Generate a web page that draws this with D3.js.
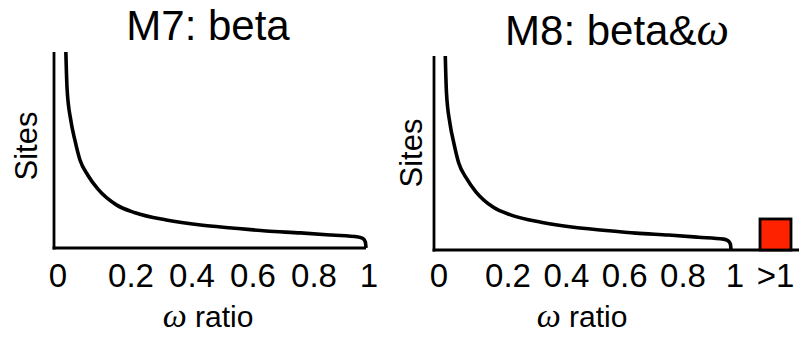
<!DOCTYPE html>
<html>
<head>
<meta charset="utf-8">
<script src="https://cdn.jsdelivr.net/npm/d3@7"></script>
<style>
  html, body { margin: 0; padding: 0; background: #fff; }
  text { font-family: "Liberation Sans", Arial, sans-serif; fill: #000; }
  .omega { font-family: "Liberation Serif", "Times New Roman", serif; font-style: italic; }
</style>
</head>
<body>
<div id="chart"></div>
<script>
// M7 / M8 site models

// beta curve (omega ratio vs share of sites)
const omega = [0.038, 0.042, 0.054, 0.067, 0.083, 0.109, 0.141, 0.2, 0.26, 0.36, 0.47, 0.57, 0.68, 0.79, 0.89, 0.975, 0.99, 0.998, 1.0]
const sites = [1.0, 0.81, 0.65, 0.55, 0.45, 0.37, 0.30, 0.22, 0.18, 0.143, 0.117, 0.102, 0.087, 0.077, 0.066, 0.056, 0.048, 0.03, 0.0]

// extra class in M8
const extraCategory = ['>1']
const extraSites = [0.16]

// tick labels
const tickValues = [0, 0.2, 0.4, 0.6, 0.8, 1]
const tickLabels = ['0', '0.2', '0.4', '0.6', '0.8', '1']

const titles = ['M7: beta', 'M8: beta&']

const width = 799
const height = 337

const svg = d3.select('#chart')
  .append('svg')
    .attr('width', width)
    .attr('height', height)

// panel layouts
const panels = [
  { title: titles[0], omegaInTitle: false, x0: 54, x1: 366, axisEnd: 366, yTop: 52, yBase: 248,
    labelPos: [58, 131, 314, 369], titleX: 208, titleY: 40, sitesX: 37, sitesY: 146, ratioX: 208, extra: false },
  { title: titles[1], omegaInTitle: true, x0: 434, x1: 731, axisEnd: 799, yTop: 56, yBase: 250,
    labelPos: [439, 508, 683, 735], titleX: 617, titleY: 45, sitesX: 422, sitesY: 153, ratioX: 582, extra: true },
]

const curveData = omega.map((w, i) => ({ w: w, s: sites[i] }))

panels.forEach((p) => {
  const x = d3.scaleLinear().domain([0, 1]).range([p.x0, p.x1])
  const y = d3.scaleLinear().domain([0, 1]).range([p.yBase, p.yTop])
  // labels sit a bit unevenly in the original
  const xLabel = d3.scaleLinear().domain([0, 0.2, 0.8, 1]).range(p.labelPos)

  const g = svg.append('g')

  // title
  const title = g.append('text')
    .attr('x', p.titleX)
    .attr('y', p.titleY)
    .attr('text-anchor', 'middle')
    .style('font-size', '42px')
    .text(p.title)
  if (p.omegaInTitle) {
    title.append('tspan').attr('class', 'omega').style('font-size', '46px').text('\u03c9')
  }

  // axes (plain lines)
  g.append('line')
    .attr('x1', p.x0).attr('x2', p.x0)
    .attr('y1', y(1)).attr('y2', y(0) + 1.5)
    .attr('stroke', '#000').attr('stroke-width', 2.8)
  g.append('line')
    .attr('x1', p.x0 - 1.4).attr('x2', p.axisEnd)
    .attr('y1', y(0)).attr('y2', y(0))
    .attr('stroke', '#000').attr('stroke-width', 2.8)

  // beta curve
  const line = d3.line()
    .x((d) => x(d.w))
    .y((d) => y(d.s))
    .curve(d3.curveMonotoneX)

  g.append('path')
    .datum(curveData)
    .attr('d', line)
    .attr('fill', 'none')
    .attr('stroke', '#000')
    .attr('stroke-width', 3.6)

  // tick labels
  g.selectAll('text.tick')
    .data(tickValues)
    .enter()
    .append('text')
      .attr('class', 'tick')
      .attr('x', (d) => xLabel(d))
      .attr('y', 287)
      .attr('text-anchor', 'middle')
      .style('font-size', '33px')
      .text((d, i) => tickLabels[i])

  // extra omega > 1 class
  if (p.extra) {
    const xb = d3.scaleBand().domain(extraCategory).range([760, 791])
    g.selectAll('rect.extra')
      .data(extraSites)
      .enter()
      .append('rect')
        .attr('class', 'extra')
        .attr('x', (d, i) => xb(extraCategory[i]))
        .attr('y', (d) => y(d))
        .attr('width', xb.bandwidth())
        .attr('height', (d) => y(0) - y(d))
        .attr('fill', '#ff2200')
        .attr('stroke', '#000')
        .attr('stroke-width', 2.8)
    g.selectAll('text.extraLabel')
      .data(extraCategory)
      .enter()
      .append('text')
        .attr('class', 'extraLabel')
        .attr('x', (d) => xb(d) + xb.bandwidth() / 2)
        .attr('y', 287)
        .attr('text-anchor', 'middle')
        .style('font-size', '33px')
        .text((d) => d)
  }

  // axis titles
  g.append('text')
    .attr('transform', `translate(${p.sitesX},${p.sitesY}) rotate(-90)`)
    .attr('text-anchor', 'middle')
    .style('font-size', '31px')
    .text('Sites')

  const ratio = g.append('text')
    .attr('x', p.ratioX)
    .attr('y', 327)
    .attr('text-anchor', 'middle')
    .style('font-size', '30px')
  ratio.append('tspan').attr('class', 'omega').style('font-size', '34px').text('\u03c9')
  ratio.append('tspan').text(' ratio')
})
</script>
</body>
</html>
